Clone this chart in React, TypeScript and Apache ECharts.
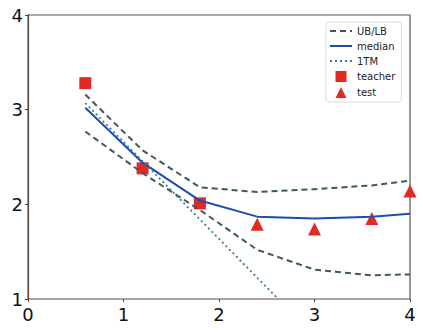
import React, { useEffect, useRef } from "react";
import * as echarts from "echarts";

const xTicks = [0, 1, 2, 3, 4];
const yTicks = [1, 2, 3, 4];

const teacher: [number, number][] = [[0.6, 3.28], [1.2, 2.38], [1.8, 2.01]];
const test: [number, number][] = [[2.4, 1.79], [3.0, 1.74], [3.6, 1.85], [4.0, 2.14]];
const median: [number, number][] = [[0.6, 3.02], [1.2, 2.44], [1.8, 2.04], [2.4, 1.87], [3.0, 1.85], [3.6, 1.87], [4.0, 1.9]];
const ub: [number, number][] = [[0.6, 3.16], [1.2, 2.57], [1.8, 2.18], [2.4, 2.13], [3.0, 2.16], [3.6, 2.2], [4.0, 2.25]];
const lb: [number, number][] = [[0.6, 2.77], [1.2, 2.33], [1.8, 1.94], [2.4, 1.52], [3.0, 1.31], [3.6, 1.25], [4.0, 1.26]];
const oneTM: [number, number][] = [[0.6, 3.07], [2.62, 1.0]];

export default function App() {
  const ref = useRef<HTMLDivElement>(null);
  useEffect(() => {
    const chart = echarts.init(ref.current!, null, { renderer: "svg" });
    const font = "DejaVu Sans";
    const dashColor = "#3d5a5c";
    const red = "#e02a24";
    const hidden = { opacity: 0 };
    chart.setOption({
      animation: false,
      grid: { left: 28, right: 13, top: 15, bottom: 34, show: true, borderColor: "#5e5048", borderWidth: 1.2, backgroundColor: "#fff" },
      legend: {
        left: 326,
        top: 22,
        orient: "vertical",
        itemWidth: 22,
        itemHeight: 11,
        itemGap: 5,
        padding: [4, 6, 4, 3],
        borderColor: "#d8dce4",
        borderWidth: 1,
        borderRadius: 3,
        backgroundColor: "#fff",
        textStyle: { fontFamily: font, fontSize: 10, color: "#222" },
        data: [
          { name: "UB/LB", itemStyle: hidden },
          { name: "median", itemStyle: hidden },
          { name: "1TM", itemStyle: hidden },
          { name: "teacher", icon: "path://M0,0h10v10h-10z" },
          { name: "test", icon: "path://M5,0L10,10H0z" },
        ],
      },
      xAxis: {
        type: "value",
        min: xTicks[0],
        max: xTicks[xTicks.length - 1],
        interval: 1,
        axisLine: { show: true, onZero: false, lineStyle: { color: "#e8886e", width: 1.2 } },
        axisTick: { show: true, length: 3, lineStyle: { color: "#444" } },
        splitLine: { show: false },
        axisLabel: { fontFamily: font, fontSize: 18, color: "#111", margin: 6 },
      },
      yAxis: {
        type: "value",
        min: yTicks[0],
        max: yTicks[yTicks.length - 1],
        interval: 1,
        axisLine: { show: true, onZero: false, lineStyle: { color: "#5e5048", width: 1.2 } },
        axisTick: { show: true, length: 3, lineStyle: { color: "#444" } },
        splitLine: { show: false },
        axisLabel: { fontFamily: font, fontSize: 18, color: "#111", margin: 5 },
      },
      series: [
        {
          name: "UB/LB", type: "line", data: ub, symbol: "none",
          lineStyle: { color: dashColor, width: 2, type: [6, 4] }, itemStyle: { color: dashColor },
        },
        {
          name: "UB/LB", type: "line", data: lb, symbol: "none",
          lineStyle: { color: dashColor, width: 2, type: [6, 4] }, itemStyle: { color: dashColor },
        },
        {
          name: "median", type: "line", data: median, symbol: "none",
          lineStyle: { color: "#1f4bb5", width: 2 }, itemStyle: { color: "#1f4bb5" },
        },
        {
          name: "1TM", type: "line", data: oneTM, symbol: "none",
          lineStyle: { color: "#3a7d92", width: 1.8, type: [2, 3] }, itemStyle: { color: "#3a7d92" },
        },
        {
          name: "teacher", type: "scatter", data: teacher, symbol: "rect", symbolSize: 12,
          itemStyle: { color: red, opacity: 1 },
        },
        {
          name: "test", type: "scatter", data: test, symbol: "triangle", symbolSize: 13,
          itemStyle: { color: red, opacity: 1 },
        },
      ],
    });
    return () => chart.dispose();
  }, []);
  return <div ref={ref} style={{ width: 423, height: 333, position: "absolute", left: 0, top: 0 }} />;
}
